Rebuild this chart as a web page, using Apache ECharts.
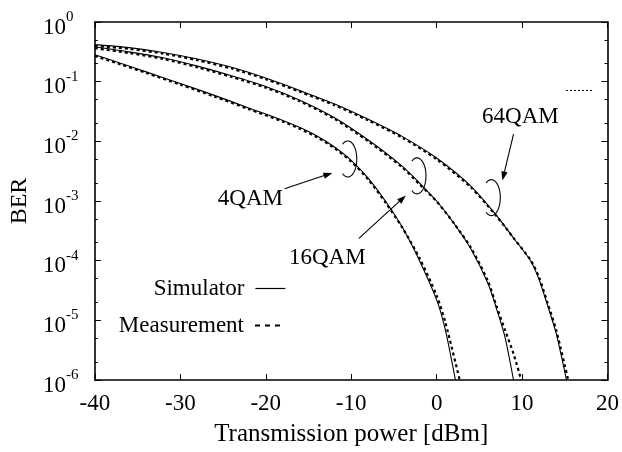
<!DOCTYPE html>
<html>
<head>
<meta charset="utf-8">
<script src="https://cdn.jsdelivr.net/npm/echarts@6/dist/echarts.min.js"></script>
<style>
  html, body { margin: 0; padding: 0; background: #fff; }
  #chart { width: 622px; height: 452px; }
</style>
</head>
<body>
<div id="chart"></div>
<script>
const FONT = '"Liberation Serif", "Times New Roman", serif';

// ---- BER vs. transmission power [dBm] ----
// 4QAM
const power4Sim  = [-40, -37, -34, -30, -26, -22, -18, -16, -14, -12, -10, -8, -6, -4, -2, 0, 1, 2.2];
const ber4Sim    = [0.282, 0.204, 0.146, 0.0933, 0.0589, 0.0363, 0.0224, 0.0170, 0.0123, 0.0081, 0.0048, 0.0024, 0.001, 3.6e-4, 1.0e-4, 2.2e-5, 7.1e-6, 1e-6];
const power4Meas = [-40, -37, -34, -30, -26, -22, -18, -16, -14, -12, -10, -8, -6, -4, -2, 0, 1, 2.7];
const ber4Meas   = [0.269, 0.195, 0.140, 0.0891, 0.0562, 0.0347, 0.0214, 0.0162, 0.0117, 0.00776, 0.00457, 0.00229, 9.5e-4, 3.55e-4, 1.1e-4, 2.6e-5, 9.5e-6, 1e-6];

// 16QAM
const power16Sim  = [-40, -36, -32, -28, -24, -20, -16, -12, -8, -4, -2, 0, 2, 4, 6, 7, 8, 9];
const ber16Sim    = [0.380, 0.316, 0.251, 0.182, 0.126, 0.0832, 0.049, 0.0251, 0.0105, 0.0038, 0.002, 0.001, 4.27e-4, 1.58e-4, 4.17e-5, 1.58e-5, 5.25e-6, 1e-6];
const power16Meas = [-40, -36, -32, -28, -24, -20, -16, -12, -8, -4, -2, 0, 2, 4, 6, 7, 8, 9, 9.9];
const ber16Meas   = [0.363, 0.302, 0.240, 0.174, 0.120, 0.0794, 0.0468, 0.024, 0.01, 0.00363, 0.0019, 9.8e-4, 4.27e-4, 1.66e-4, 4.57e-5, 1.74e-5, 6.9e-6, 2.75e-6, 1e-6];

// 64QAM
const power64Sim  = [-40, -36, -32, -28, -24, -20, -16, -12, -8, -4, 0, 4, 7, 9, 11, 12, 13, 14, 15.2];
const ber64Sim    = [0.417, 0.372, 0.309, 0.240, 0.174, 0.115, 0.0708, 0.0427, 0.0234, 0.0120, 0.00525, 0.00178, 5.75e-4, 2.4e-4, 1.0e-4, 4.8e-5, 1.75e-5, 6.0e-6, 1e-6];
const power64Meas = [-40, -36, -32, -28, -24, -20, -16, -12, -8, -4, 0, 4, 7, 9, 11, 12, 13, 14, 15.4];
const ber64Meas   = [0.398, 0.355, 0.295, 0.229, 0.166, 0.110, 0.0676, 0.0407, 0.0224, 0.0115, 0.00501, 0.0017, 5.6e-4, 2.4e-4, 1.02e-4, 5.2e-5, 1.92e-5, 6.8e-6, 1e-6];

// Axis ticks
const xMin = -40, xMax = 20, xStep = 10;
const decadeTicks = [1e-6, 1e-5, 1e-4, 1e-3, 1e-2, 1e-1, 1];
const minorTicks  = [2e-6, 5e-6, 2e-5, 5e-5, 2e-4, 5e-4, 2e-3, 5e-3, 2e-2, 5e-2, 0.2, 0.5];

// Annotations: modulation labels, arrows (tail -> head) and rings around each curve pair
const modNames   = ['4QAM', '16QAM', '64QAM'];
const labelPower = [-21.8, -12.8, 9.8];
const labelBer   = [1.1e-3, 1.1e-4, 0.0252];
const arrowTailPower = [-17.8, -9.1, 9.0];
const arrowTailBer   = [1.61e-3, 2.36e-4, 0.0132];
const arrowHeadPower = [-12.2, -3.6, 7.7];
const arrowHeadBer   = [2.96e-3, 1.24e-3, 2.21e-3];
const ringPower = [-10.4, -2.3, 6.4];
const ringBer   = [5.07e-3, 2.64e-3, 1.14e-3];

function pairs(xs, ys) { return xs.map((x, i) => [x, ys[i]]); }

function curve(name, xs, ys, dashed) {
  return {
    type: 'line',
    name: name,
    data: pairs(xs, ys),
    symbol: 'none',
    showSymbol: false,
    smooth: 0.25,
    silent: true,
    z: dashed ? 2 : 3,
    itemStyle: { color: '#000' },
    lineStyle: dashed
      ? { color: '#000', width: 2.2, type: [3, 3] }
      : { color: '#000', width: 1.1 }
  };
}

function supLabel(v) {
  const e = Math.round(Math.log10(v));
  return '{b|10}{s|' + e + '}';
}

const tickStyle = { color: '#000', width: 1 };

const option = {
  animation: false,
  backgroundColor: '#fff',
  textStyle: { fontFamily: FONT, color: '#000' },
  grid: { left: 90, right: 14, top: 22, bottom: 69, containLabel: false },
  xAxis: [
    {
      type: 'value', min: xMin, max: xMax, interval: xStep, position: 'bottom',
      name: 'Transmission power [dBm]', nameLocation: 'middle', nameGap: 42,
      nameTextStyle: { fontFamily: FONT, fontSize: 25, color: '#000' },
      axisLine: { show: true, onZero: false, lineStyle: { color: '#000', width: 1.6 } },
      axisTick: { show: true, inside: true, length: 6, lineStyle: tickStyle },
      axisLabel: { fontFamily: FONT, fontSize: 23, color: '#000', margin: 12 },
      splitLine: { show: false }
    },
    {
      type: 'value', min: xMin, max: xMax, interval: xStep, position: 'top',
      axisLine: { show: true, onZero: false, lineStyle: { color: '#000', width: 1.6 } },
      axisTick: { show: true, inside: true, length: 6, lineStyle: tickStyle },
      axisLabel: { show: false },
      splitLine: { show: false }
    }
  ],
  yAxis: [
    {
      type: 'log', logBase: 10, min: 1e-6, max: 1, position: 'left',
      name: 'BER', nameLocation: 'middle', nameGap: 59, nameRotate: 90,
      nameTextStyle: { fontFamily: FONT, fontSize: 24, color: '#000' },
      axisLine: { show: true, onZero: false, lineStyle: { color: '#000', width: 1.6 } },
      axisTick: { show: true, inside: true, length: 6, lineStyle: tickStyle, customValues: decadeTicks },
      axisLabel: {
        customValues: decadeTicks,
        formatter: supLabel,
        align: 'left',
        margin: 52,
        rich: {
          b: { fontFamily: FONT, fontSize: 23, lineHeight: 23, color: '#000', padding: [11, 0, 0, 0] },
          s: { fontFamily: FONT, fontSize: 15, lineHeight: 15, color: '#000', padding: [0, 0, 10, 0] }
        }
      },
      splitLine: { show: false }
    },
    {
      type: 'log', logBase: 10, min: 1e-6, max: 1, position: 'left',
      axisLine: { show: false, onZero: false },
      axisTick: { show: true, inside: true, length: 3, lineStyle: tickStyle, customValues: minorTicks },
      axisLabel: { show: false },
      splitLine: { show: false }
    },
    {
      type: 'log', logBase: 10, min: 1e-6, max: 1, position: 'right',
      axisLine: { show: true, onZero: false, lineStyle: { color: '#000', width: 1.6 } },
      axisTick: { show: true, inside: true, length: 6, lineStyle: tickStyle, customValues: decadeTicks },
      axisLabel: { show: false },
      splitLine: { show: false }
    },
    {
      type: 'log', logBase: 10, min: 1e-6, max: 1, position: 'right',
      axisLine: { show: false, onZero: false },
      axisTick: { show: true, inside: true, length: 3, lineStyle: tickStyle, customValues: minorTicks },
      axisLabel: { show: false },
      splitLine: { show: false }
    }
  ],
  legend: [
    {
      data: ['Simulator'], right: 336, top: 277, padding: 0, align: 'right',
      itemWidth: 30, itemHeight: 12, selectedMode: false,
      textStyle: { fontFamily: FONT, fontSize: 23, color: '#000', padding: [0, 6, 0, 0] },
      itemStyle: { opacity: 0 },
      lineStyle: { width: 1.2, type: 'solid', color: '#000' }
    },
    {
      data: ['Measurement'], right: 336, top: 314, padding: 0, align: 'right',
      itemWidth: 30, itemHeight: 12, selectedMode: false,
      textStyle: { fontFamily: FONT, fontSize: 23, color: '#000', padding: [0, 6, 0, 0] },
      itemStyle: { opacity: 0 },
      lineStyle: { width: 2, type: [5, 5], color: '#000' }
    }
  ],
  graphic: [
    {
      type: 'line', id: 'spareKey',
      shape: { x1: 566, y1: 90.5, x2: 593, y2: 90.5 },
      style: { stroke: '#000', lineWidth: 1, lineDash: [2, 2] },
      silent: true
    }
  ],
  series: [
    curve('Measurement', power4Meas, ber4Meas, true),
    curve('Measurement', power16Meas, ber16Meas, true),
    curve('Measurement', power64Meas, ber64Meas, true),
    curve('Simulator', power4Sim, ber4Sim, false),
    curve('Simulator', power16Sim, ber16Sim, false),
    curve('Simulator', power64Sim, ber64Sim, false),
    {
      // rings grouping each simulator / measurement pair
      type: 'custom', coordinateSystem: 'cartesian2d', silent: true, z: 5,
      data: pairs(ringPower, ringBer),
      renderItem: function (params, api) {
        const c = api.coord([api.value(0), api.value(1)]);
        const pts = [];
        for (let a = -125; a <= 125; a += 5) {
          const r = a * Math.PI / 180;
          pts.push([c[0] + 9 * Math.cos(r), c[1] + 18 * Math.sin(r)]);
        }
        return { type: 'polyline', shape: { points: pts }, style: { stroke: '#000', lineWidth: 1.1, fill: null } };
      }
    },
    {
      // arrows from the labels to the rings
      type: 'custom', coordinateSystem: 'cartesian2d', silent: true, z: 5,
      data: arrowTailPower.map((x, i) => [x, arrowTailBer[i], arrowHeadPower[i], arrowHeadBer[i]]),
      renderItem: function (params, api) {
        const p1 = api.coord([api.value(0), api.value(1)]);
        const p2 = api.coord([api.value(2), api.value(3)]);
        const dx = p2[0] - p1[0], dy = p2[1] - p1[1];
        const len = Math.sqrt(dx * dx + dy * dy);
        const ux = dx / len, uy = dy / len;
        const hl = 9, hw = 3.2;
        const bx = p2[0] - ux * hl, by = p2[1] - uy * hl;
        return {
          type: 'group',
          children: [
            { type: 'line', shape: { x1: p1[0], y1: p1[1], x2: bx + ux * 2, y2: by + uy * 2 }, style: { stroke: '#000', lineWidth: 1.1 } },
            { type: 'polygon', shape: { points: [[p2[0], p2[1]], [bx - uy * hw, by + ux * hw], [bx + uy * hw, by - ux * hw]] }, style: { fill: '#000' } }
          ]
        };
      }
    },
    {
      // modulation names
      type: 'custom', coordinateSystem: 'cartesian2d', silent: true, z: 5,
      data: pairs(labelPower, labelBer),
      renderItem: function (params, api) {
        const p = api.coord([api.value(0), api.value(1)]);
        return {
          type: 'text',
          style: {
            text: modNames[params.dataIndex], x: p[0], y: p[1],
            align: 'center', verticalAlign: 'middle',
            font: '23px ' + FONT, fill: '#000'
          }
        };
      }
    }
  ]
};

const chart = echarts.init(document.getElementById('chart'));
chart.setOption(option);
</script>
</body>
</html>
